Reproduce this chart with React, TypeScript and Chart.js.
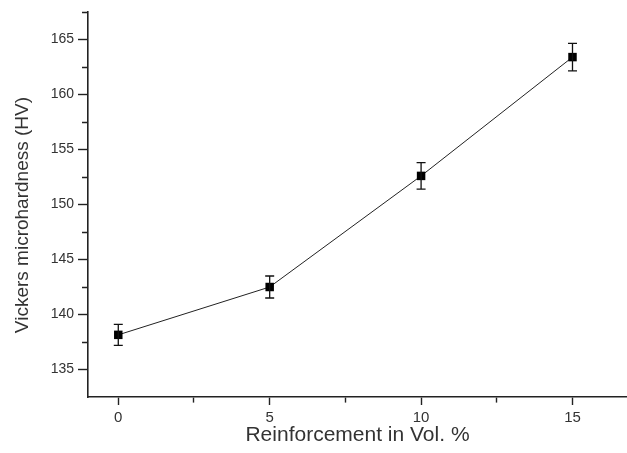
import React, { useEffect, useRef } from "react";
import { Chart, registerables } from "chart.js";

Chart.register(...registerables);

// Data
const reinforcement = [0, 5, 10, 15];
const hardness = [138.15, 142.5, 152.6, 163.4];
const hardnessError = [0.95, 1.0, 1.2, 1.25];

// Axis ticks
const xTickValues = [0, 2.5, 5, 7.5, 10, 12.5, 15];
const yTickValues = [135, 137.5, 140, 142.5, 145, 147.5, 150, 152.5, 155, 157.5, 160, 162.5, 165, 167.5];
const xRange = [-1, 16.8];
const yRange = [132.5, 167.5];

const xTitle = "Reinforcement in Vol. %";
const yTitle = "Vickers microhardness (HV)    ";

const isMajor = (v: number) => Math.abs(v % 5) < 1e-6;

const errorBarPlugin = {
  id: "errorBars",
  afterDatasetsDraw(chart: any) {
    const { ctx, scales } = chart;
    const xs = scales.x;
    const ys = scales.y;
    ctx.save();
    ctx.strokeStyle = "#111";
    ctx.lineWidth = 1.3;
    const cap = 4.5;
    reinforcement.forEach((xv, i) => {
      const px = xs.getPixelForValue(xv);
      const top = ys.getPixelForValue(hardness[i] + hardnessError[i]);
      const bot = ys.getPixelForValue(hardness[i] - hardnessError[i]);
      ctx.beginPath();
      ctx.moveTo(px, top);
      ctx.lineTo(px, bot);
      ctx.moveTo(px - cap, top);
      ctx.lineTo(px + cap, top);
      ctx.moveTo(px - cap, bot);
      ctx.lineTo(px + cap, bot);
      ctx.stroke();
    });
    ctx.restore();
  },
};

export default function App() {
  const ref = useRef<HTMLCanvasElement | null>(null);

  useEffect(() => {
    document.body.style.margin = "0";
    const canvas = ref.current;
    if (!canvas) return;
    const chart = new Chart(canvas, {
      type: "scatter",
      data: {
        datasets: [
          {
            data: reinforcement.map((x, i) => ({ x, y: hardness[i] })),
            showLine: true,
            borderColor: "#222",
            borderWidth: 1,
            backgroundColor: "#000",
            pointStyle: "rect",
            pointRadius: 6,
            pointBorderWidth: 0,
            pointBackgroundColor: "#000",
          },
        ],
      },
      options: {
        animation: false,
        responsive: false,
        devicePixelRatio: 1,
        layout: { autoPadding: false, padding: { top: 12, right: 0, left: 0, bottom: 0 } },
        plugins: { legend: { display: false }, tooltip: { enabled: false } },
        scales: {
          x: {
            type: "linear",
            position: "bottom",
            min: xRange[0],
            max: xRange[1],
            afterBuildTicks: (s: any) => {
              s.ticks = xTickValues.map((value) => ({ value }));
            },
            afterFit: (s: any) => {
              s.height = 56;
              s.paddingLeft = 0;
              s.paddingRight = 0;
            },
            border: { display: true, color: "#222", width: 1.6 },
            grid: {
              display: true,
              drawOnChartArea: false,
              tickLength: 8,
              tickWidth: 1.4,
              tickColor: "#222",
              tickBorderDash: (c: any) => (c.tick && isMajor(c.tick.value) ? [] : [5, 100]),
            },
            ticks: {
              padding: 4,
              color: "#333",
              font: { family: "'Liberation Sans', Arial, sans-serif", size: 15 },
              maxRotation: 0,
              autoSkip: false,
              callback: (v: any) => (isMajor(Number(v)) ? String(v) : ""),
            },
            title: {
              display: true,
              text: xTitle,
              color: "#333",
              font: { family: "'Liberation Sans', Arial, sans-serif", size: 21 },
              padding: { top: 0, bottom: 5 },
            },
          },
          y: {
            type: "linear",
            position: "left",
            min: yRange[0],
            max: yRange[1],
            afterBuildTicks: (s: any) => {
              s.ticks = yTickValues.map((value) => ({ value }));
            },
            afterFit: (s: any) => {
              s.width = 88;
              s.paddingTop = 0;
              s.paddingBottom = 0;
            },
            border: { display: true, color: "#222", width: 1.6 },
            grid: {
              display: true,
              drawOnChartArea: false,
              tickLength: 10,
              tickWidth: 1.4,
              tickColor: "#222",
              tickBorderDash: (c: any) => (c.tick && isMajor(c.tick.value) ? [] : [0, 4, 6, 100]),
            },
            ticks: {
              padding: 4,
              color: "#333",
              font: { family: "'Liberation Sans', Arial, sans-serif", size: 14 },
              autoSkip: false,
              callback: (v: any) => (isMajor(Number(v)) ? String(v) : ""),
            },
            title: {
              display: true,
              text: yTitle,
              color: "#333",
              font: { family: "'Liberation Sans', Arial, sans-serif", size: 19 },
              padding: { top: 11, bottom: 0 },
            },
          },
        },
      },
      plugins: [errorBarPlugin],
    });
    return () => chart.destroy();
  }, []);

  return (
    <div style={{ position: "absolute", left: 0, top: 0, width: 627, height: 453, background: "#fff" }}>
      <canvas ref={ref} width={627} height={453} />
    </div>
  );
}
